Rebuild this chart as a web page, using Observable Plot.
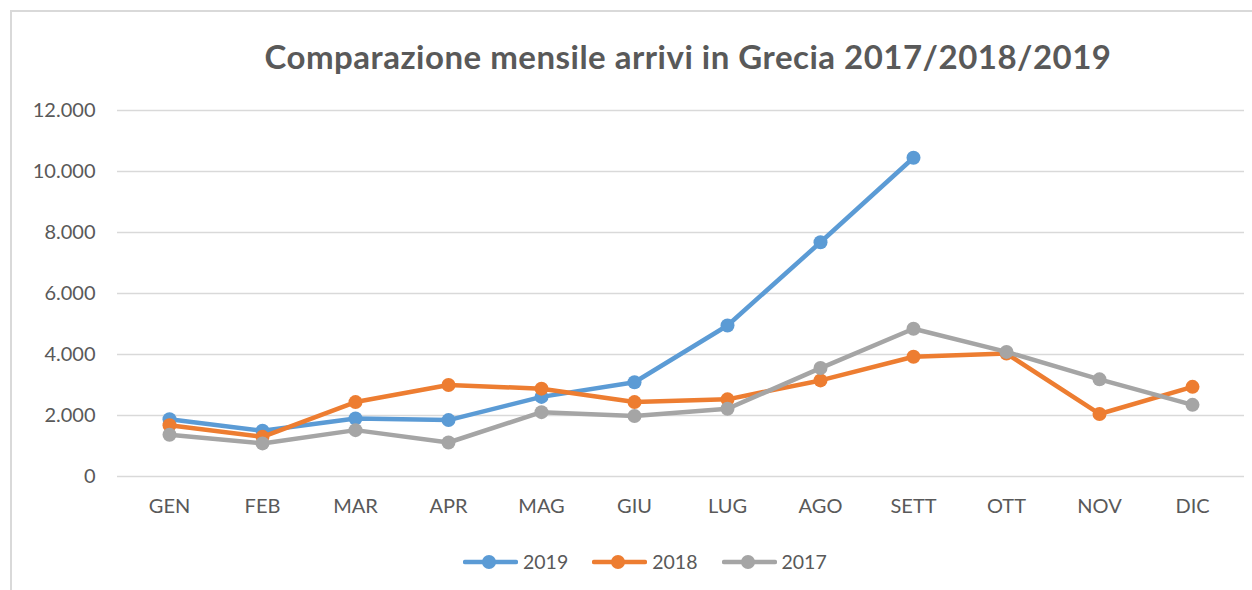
<!DOCTYPE html>
<html>
<head>
<meta charset="utf-8">
<script src="https://cdn.jsdelivr.net/npm/d3@7"></script>
<script src="https://cdn.jsdelivr.net/npm/@observablehq/plot@0.6"></script>
<style>
  html, body { margin: 0; padding: 0; background: #fff; }
  #wrap { position: relative; width: 1252px; height: 590px; overflow: hidden; font-family: Lato, "Open Sans", sans-serif; color: #595959; }
  #frame { position: absolute; left: 10px; top: 10px; width: 1300px; height: 700px; border-top: 2px solid #d9d9d9; border-left: 2px solid #d9d9d9; }
  #title { position: absolute; left: 188px; width: 1000px; top: 40px; text-align: center; font-weight: bold; font-size: 33px; letter-spacing: 0.5px; line-height: 33px; color: #595959; white-space: nowrap; }
  #chart { position: absolute; left: 0; top: 90px; }
  #legend { position: absolute; left: 463px; top: 549px; display: flex; align-items: center; font-size: 19.5px; line-height: 26px; color: #595959; }
  .item { display: flex; align-items: center; margin-right: 24px; }
  .item svg { margin-right: 5px; }
</style>
</head>
<body>
<div id="wrap">
  <div id="frame"></div>
  <div id="title">Comparazione mensile arrivi in Grecia 2017/2018/2019</div>
  <div id="chart"></div>
  <div id="legend"></div>
</div>
<script>
const months = ["GEN","FEB","MAR","APR","MAG","GIU","LUG","AGO","SETT","OTT","NOV","DIC"];
const seriesNames = ["2019","2018","2017"];
const v2019 = [1880, 1500, 1900, 1850, 2610, 3090, 4950, 7680, 10450];
const v2018 = [1680, 1300, 2440, 3000, 2880, 2440, 2530, 3150, 3925, 4030, 2050, 2940];
const v2017 = [1370, 1085, 1520, 1115, 2110, 1985, 2220, 3555, 4845, 4085, 3185, 2350];
const yTicks = [0, 2000, 4000, 6000, 8000, 10000, 12000];
const colors = ["#5B9BD5", "#ED7D31", "#A5A5A5"];

const valuesBySeries = [v2019, v2018, v2017];
const rows = [];
seriesNames.forEach((s, i) => {
  valuesBySeries[i].forEach((v, j) => rows.push({series: s, month: months[j], value: v}));
});

const it = d3.formatLocale({decimal: ",", thousands: ".", grouping: [3], currency: ["", "€"]});
const fmt = it.format(",d");

const marks = [
  Plot.ruleY(yTicks, {stroke: "#d9d9d9", strokeWidth: 1.5}),
  Plot.axisY({ticks: yTicks, tickFormat: fmt, tickSize: 0, tickPadding: 22, fontSize: 20, fill: "#595959"}),
  Plot.axisX({tickSize: 0, tickPadding: 22, fontSize: 20, fill: "#595959"})
];
seriesNames.forEach((s, i) => {
  const d = rows.filter(r => r.series === s);
  marks.push(Plot.line(d, {x: "month", y: "value", stroke: colors[i], strokeWidth: 4.5, strokeLinejoin: "round", strokeLinecap: "round"}));
  marks.push(Plot.dot(d, {x: "month", y: "value", fill: colors[i], r: 7}));
});

const chart = Plot.plot({
  width: 1252,
  height: 450,
  marginTop: 20,
  marginBottom: 64,
  marginLeft: 117,
  marginRight: 8,
  style: {fontFamily: "Lato, 'Open Sans', sans-serif", background: "transparent", color: "#595959", overflow: "visible"},
  x: {type: "point", domain: months, padding: 0.5, label: null},
  y: {domain: [0, 12000], label: null},
  marks
});
document.getElementById("chart").appendChild(chart);

const legend = document.getElementById("legend");
seriesNames.forEach((s, i) => {
  const item = document.createElement("div");
  item.className = "item";
  item.innerHTML = `<svg width="55" height="16"><line x1="2" x2="53" y1="8" y2="8" stroke="${colors[i]}" stroke-width="4.5" stroke-linecap="round"/><circle cx="26" cy="8" r="7" fill="${colors[i]}"/></svg><span>${s}</span>`;
  legend.appendChild(item);
});
</script>
</body>
</html>
